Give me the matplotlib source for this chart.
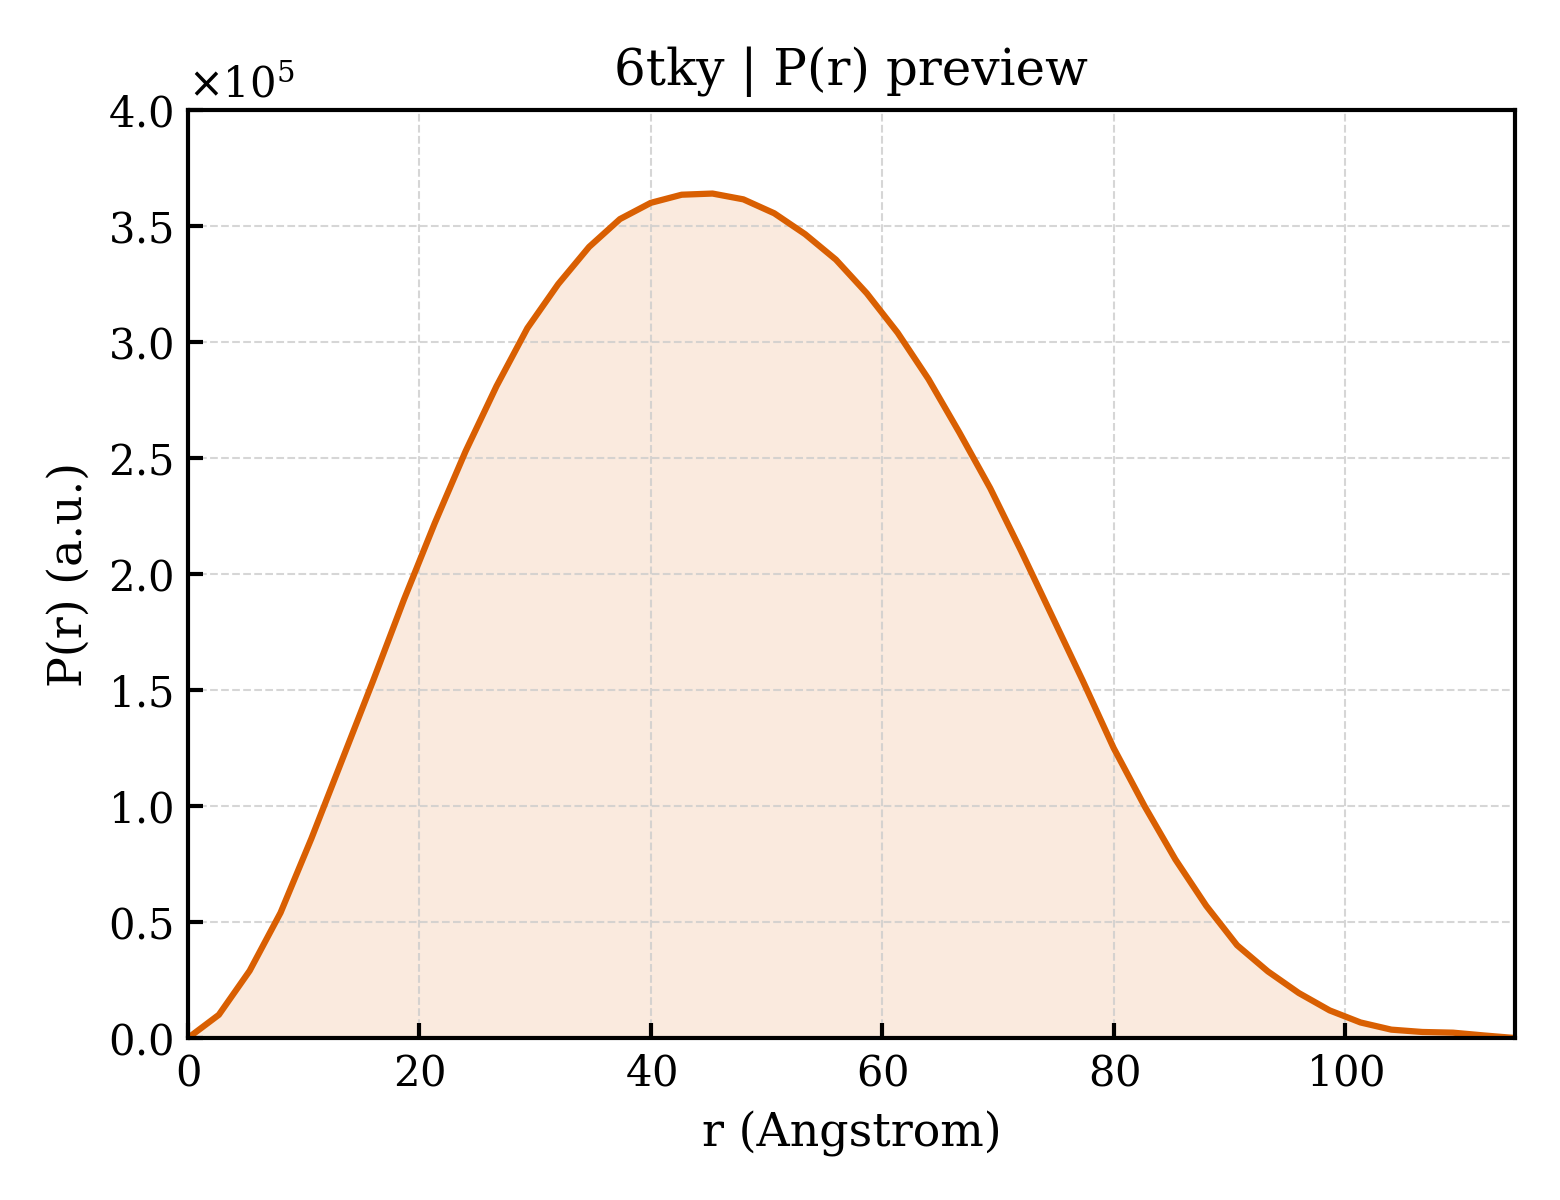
import matplotlib
matplotlib.use('Agg')
import matplotlib.pyplot as plt

r = [0.0, 2.667, 5.333, 8.0, 10.667, 13.333, 16.0, 18.667, 21.333, 24.0,
     26.667, 29.333, 32.0, 34.667, 37.333, 40.0, 42.667, 45.333, 48.0, 50.667,
     53.333, 56.0, 58.667, 61.333, 64.0, 66.667, 69.333, 72.0, 74.667, 77.333,
     80.0, 82.667, 85.333, 88.0, 90.667, 93.333, 96.0, 98.667, 101.333, 104.0,
     106.667, 109.333, 112.0, 114.667]
pr = [0, 10000, 29000, 54000, 86000, 120000, 154000, 189000, 222000, 253000,
      281000, 306000, 325000, 341000, 353000, 360000, 363500, 364000, 361500, 355500,
      346500, 335500, 321000, 304000, 284000, 261000, 237000, 210000, 182000, 154000,
      125000, 100000, 77000, 57000, 40000, 28700, 19400, 11900, 6700, 3600,
      2600, 2300, 1100, 0]

title = "6tky | P(r) preview"
line_color = "#d95f02"

plt.rcParams['font.family'] = 'DejaVu Serif'
plt.rcParams['axes.formatter.use_mathtext'] = True
plt.rcParams['axes.linewidth'] = 1.0

fig = plt.figure(figsize=(5.2, 4.0), dpi=300)
ax = fig.add_axes([0.1205, 0.135, 0.8505, 0.7733])

ax.fill_between(r, pr, 0, color=line_color, alpha=0.13, linewidth=0)
ax.plot(r, pr, color=line_color, linewidth=1.5)

ax.set_xlim(0, r[-1])
ax.set_ylim(0, 400000)
ax.ticklabel_format(axis='y', style='sci', scilimits=(0, 0))
ax.grid(True, linestyle='--', linewidth=0.5, color='#cccccc', alpha=0.8)
ax.tick_params(direction='in', labelsize=10, length=3.5, width=1.0)
ax.yaxis.get_offset_text().set_fontsize(10)

ax.set_xlabel("r (Angstrom)", fontsize=11)
ax.set_ylabel("P(r) (a.u.)", fontsize=11)
ax.set_title(title, fontsize=12)

fig.savefig("out.png", dpi=300)
